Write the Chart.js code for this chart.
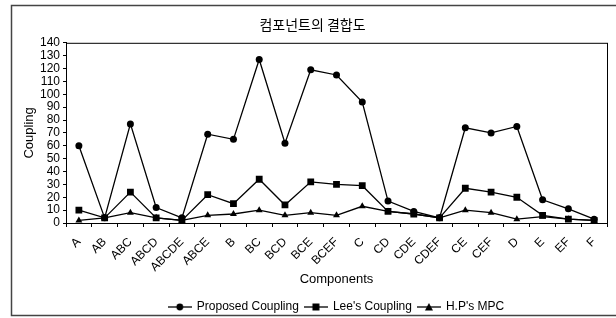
<!DOCTYPE html>
<html>
<head>
<meta charset="utf-8">
<script src="https://cdn.jsdelivr.net/npm/chart.js@4.4.1/dist/chart.umd.min.js"></script>
<style>
    html, body { margin: 0; padding: 0; background: #fff; }
    #wrap { width: 616px; height: 318px; }
</style>
</head>
<body>
<div id="wrap"><canvas id="chart" width="616" height="318"></canvas></div>
<script>
// Data
const components = ['A', 'AB', 'ABC', 'ABCD', 'ABCDE', 'ABCE', 'B', 'BC', 'BCD', 'BCE', 'BCEF',
    'C', 'CD', 'CDE', 'CDEF', 'CE', 'CEF', 'D', 'E', 'EF', 'F'];
const proposedCoupling = [60, 4, 77, 12, 4, 69, 65, 127, 62, 119, 115, 94, 17, 9, 4, 74, 70, 75, 18, 11, 3];
const leesCoupling = [10, 4, 24, 4, 2, 22, 15, 34, 14, 32, 30, 29, 9, 7, 4, 27, 24, 20, 6, 3, 2];
const hpMpc = [2, 4, 8, 4, 2, 6, 7, 10, 6, 8, 6, 13, 9, 7, 4, 10, 8, 3, 5, 3, 2];
const seriesNames = ['Proposed Coupling', "Lee's Coupling", "H.P's MPC"];
const yTickMax = 140;
const yTickStep = 10;

const FONT = "'Liberation Sans', Arial, sans-serif";

/**
 * Builds a small legend icon: a short line with the marker in the middle
 */
function legendIcon(style) {
    const c = document.createElement('canvas');
    c.width = 24;
    c.height = 10;
    const g = c.getContext('2d');
    g.strokeStyle = '#000';
    g.fillStyle = '#000';
    g.lineWidth = 1.3;
    g.beginPath();
    g.moveTo(0, 5);
    g.lineTo(24, 5);
    g.stroke();
    g.beginPath();
    if (style === 'circle') {
        g.arc(12, 5, 3.4, 0, Math.PI * 2);
    } else if (style === 'rect') {
        g.rect(8.5, 1.5, 7, 7);
    } else {
        g.moveTo(12, 1);
        g.lineTo(16, 8.5);
        g.lineTo(8, 8.5);
        g.closePath();
    }
    g.fill();
    return c;
}

// Outer frame and plot border
const framePlugin = {
    id: 'frame',
    beforeDraw(chart) {
        const ctx = chart.ctx;
        ctx.save();
        ctx.fillStyle = '#fff';
        ctx.fillRect(0, 0, chart.width, chart.height);
        ctx.strokeStyle = '#444';
        ctx.lineWidth = 1.5;
        ctx.beginPath();
        ctx.moveTo(616, 5.5);
        ctx.lineTo(11.5, 5.5);
        ctx.lineTo(11.5, 315.5);
        ctx.lineTo(616, 315.5);
        ctx.stroke();
        ctx.restore();
    },
    beforeDatasetsDraw(chart) {
        const {ctx, chartArea: a} = chart;
        ctx.save();
        ctx.strokeStyle = '#000';
        ctx.lineWidth = 1;
        ctx.strokeRect(a.left + 0.5, a.top + 0.5, a.right - a.left, a.bottom - a.top);
        ctx.restore();
    }
};

const pointStyles = ['circle', 'rect', 'triangle'];
const pointRadii = [3.5, 4.8, 4];
const seriesData = [proposedCoupling, leesCoupling, hpMpc];

new Chart(document.getElementById('chart').getContext('2d'), {
    type: 'line',
    data: {
        labels: components,
        datasets: seriesData.map((values, i) => ({
            label: seriesNames[i],
            data: values,
            borderColor: '#000',
            backgroundColor: '#000',
            borderWidth: 1.3,
            pointStyle: pointStyles[i],
            pointRadius: pointRadii[i],
            pointBackgroundColor: '#000',
            pointBorderColor: '#000',
            pointBorderWidth: 0,
            tension: 0
        }))
    },
    options: {
        responsive: false,
        animation: false,
        layout: {
            padding: { left: 18, right: 9, top: 6, bottom: -5 }
        },
        plugins: {
            title: {
                display: true,
                text: '컴포넌트의 결합도',
                color: '#000',
                font: { family: "'Noto Sans CJK KR', sans-serif", size: 14, weight: 'normal' },
                padding: { top: 10, bottom: 10 }
            },
            legend: {
                position: 'bottom',
                fullSize: false,
                labels: {
                    color: '#000',
                    font: { family: FONT, size: 12 },
                    usePointStyle: true,
                    pointStyleWidth: 22,
                    padding: 6,
                    generateLabels: (chart) => chart.data.datasets.map((ds, i) => ({
                        text: ds.label,
                        pointStyle: legendIcon(pointStyles[i]),
                        datasetIndex: i,
                        fontColor: '#000',
                        lineWidth: 0
                    }))
                }
            },
            tooltip: { enabled: false }
        },
        scales: {
            x: {
                offset: true,
                grid: {
                    display: true,
                    offset: true,
                    drawOnChartArea: false,
                    tickLength: 4,
                    color: '#000'
                },
                border: { color: '#000', width: 1 },
                ticks: {
                    color: '#000',
                    font: { family: FONT, size: 12 },
                    minRotation: 45,
                    maxRotation: 45,
                    autoSkip: false,
                    padding: 8
                },
                title: {
                    display: true,
                    text: 'Components',
                    color: '#000',
                    font: { family: FONT, size: 13 },
                    padding: { top: 0, bottom: 8 }
                },
                afterFit: (scale) => { scale.height = 72; }
            },
            y: {
                min: 0,
                max: yTickMax,
                grid: {
                    display: true,
                    drawOnChartArea: false,
                    tickLength: 3,
                    color: '#000'
                },
                border: { color: '#000', width: 1 },
                ticks: {
                    stepSize: yTickStep,
                    autoSkip: false,
                    color: '#000',
                    font: { family: FONT, size: 12 },
                    padding: 3
                },
                title: {
                    display: true,
                    text: 'Coupling',
                    color: '#000',
                    font: { family: FONT, size: 13 },
                    padding: { top: 4, bottom: 0 }
                },
                afterFit: (scale) => { scale.width = 48; }
            }
        }
    },
    plugins: [framePlugin]
});
</script>
</body>
</html>
